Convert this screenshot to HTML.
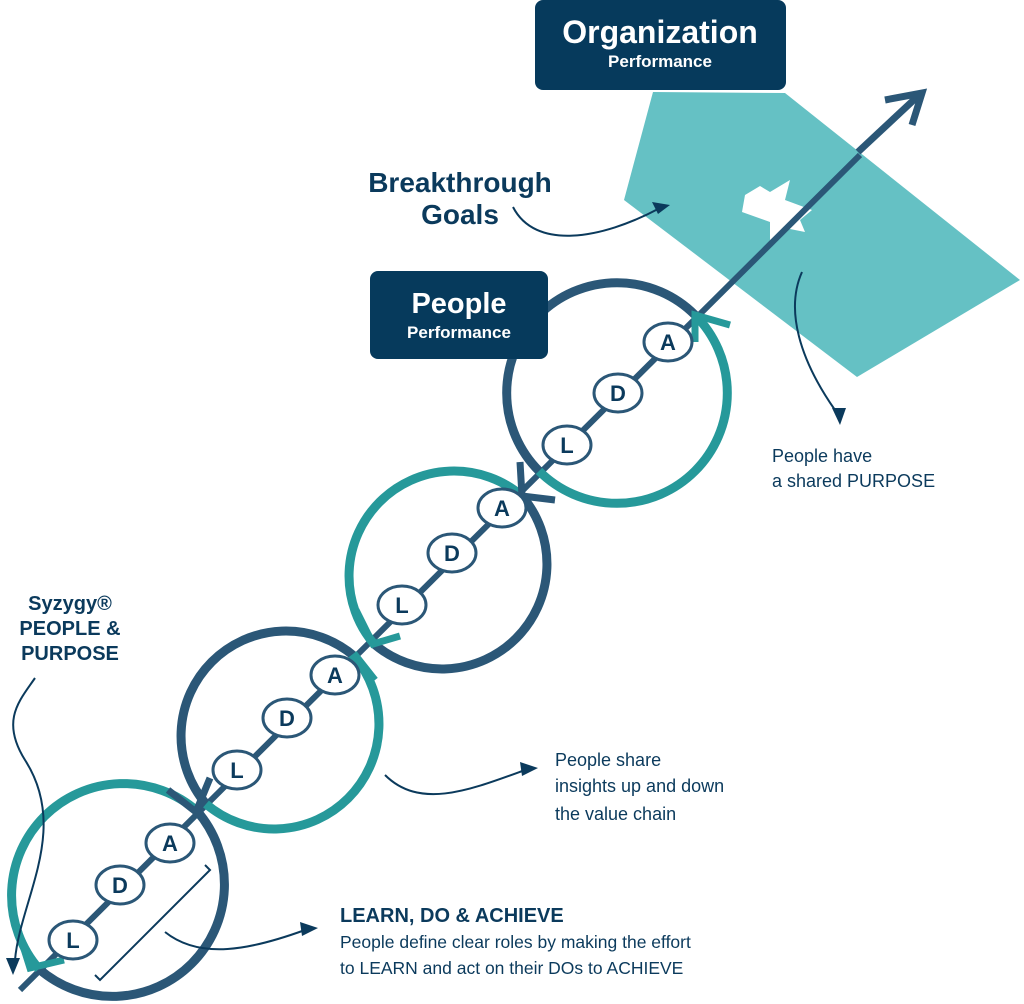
<!DOCTYPE html>
<html><head><meta charset="utf-8"><style>
html,body{margin:0;padding:0;background:#fff;width:1024px;height:1004px;overflow:hidden}
svg{display:block}
text{font-family:"Liberation Sans",sans-serif;fill:#0b3a5c}
.b{font-weight:bold}
</style></head><body>
<svg width="1024" height="1004" viewBox="0 0 1024 1004">
<polygon points="624,200 653,92 785,93 1020,280 857,377" fill="#65c1c4"/>
<polygon points="745,195 760,186 770,192 790,180 785,200 812,210 800,220 805,232 785,228 770,240 770,222 742,212" fill="#fff"/>
<line x1="20" y1="990" x2="860" y2="155" stroke="#2b5777" stroke-width="6"/>
<line x1="858" y1="152" x2="918" y2="96" stroke="#2b5777" stroke-width="7"/>
<polyline points="885,100 922,93 912,125" fill="none" stroke="#2b5777" stroke-width="7"/>
<g fill="none" stroke-width="9">
<path d="M39,969 A112,112 0 0 1 197,811" stroke="#26999a"/>
<path d="M197,811 A112,112 0 0 1 39,969" stroke="#2b5777"/>
<path d="M206,804 A105,105 0 0 1 354,656" stroke="#2b5777"/>
<path d="M354,656 A105,105 0 0 1 206,804" stroke="#26999a"/>
<path d="M374,644 A105,105 0 0 1 522,496" stroke="#26999a"/>
<path d="M522,496 A105,105 0 0 1 374,644" stroke="#2b5777"/>
<path d="M539,471 A110,110 0 0 1 695,315" stroke="#2b5777"/>
<path d="M695,315 A110,110 0 0 1 539,471" stroke="#26999a"/>
</g>
<g fill="none" stroke-width="7">
<polyline points="18,930 30,968 64,960" stroke="#26999a"/>
<polyline points="168,790 196,812 210,778" stroke="#2b5777"/>
<polyline points="375,680 356,656 335,672" stroke="#26999a"/>
<polyline points="356,610 373,644 400,636" stroke="#26999a"/>
<polyline points="520,462 522,496 555,500" stroke="#2b5777"/>
<polyline points="695,342 695,315 730,325" stroke="#26999a"/>
</g>
<g stroke="#2b5777" stroke-width="3" fill="#fff">
<ellipse cx="73" cy="940" rx="24" ry="19"/><ellipse cx="120" cy="885" rx="24" ry="19"/><ellipse cx="170" cy="843" rx="24" ry="19"/>
<ellipse cx="237" cy="770" rx="24" ry="19"/><ellipse cx="287" cy="718" rx="24" ry="19"/><ellipse cx="335" cy="675" rx="24" ry="19"/>
<ellipse cx="402" cy="605" rx="24" ry="19"/><ellipse cx="452" cy="553" rx="24" ry="19"/><ellipse cx="502" cy="508" rx="24" ry="19"/>
<ellipse cx="567" cy="445" rx="24" ry="19"/><ellipse cx="618" cy="393" rx="24" ry="19"/><ellipse cx="668" cy="342" rx="24" ry="19"/>
</g>
<g class="b" font-size="22" text-anchor="middle">
<text x="73" y="948" class="b">L</text><text x="120" y="893" class="b">D</text><text x="170" y="851" class="b">A</text>
<text x="237" y="778" class="b">L</text><text x="287" y="726" class="b">D</text><text x="335" y="683" class="b">A</text>
<text x="402" y="613" class="b">L</text><text x="452" y="561" class="b">D</text><text x="502" y="516" class="b">A</text>
<text x="567" y="453" class="b">L</text><text x="618" y="401" class="b">D</text><text x="668" y="350" class="b">A</text>
</g>
<rect x="535" y="0" width="251" height="90" rx="8" fill="#063a5c"/>
<text x="660" y="43" text-anchor="middle" font-size="32" font-weight="bold" style="fill:#fff">Organization</text>
<text x="660" y="67" text-anchor="middle" font-size="17" font-weight="bold" style="fill:#fff">Performance</text>
<rect x="370" y="271" width="178" height="88" rx="8" fill="#063a5c"/>
<text x="459" y="313" text-anchor="middle" font-size="29" font-weight="bold" style="fill:#fff">People</text>
<text x="459" y="338" text-anchor="middle" font-size="17" font-weight="bold" style="fill:#fff">Performance</text>
<text x="460" y="192" text-anchor="middle" font-size="28" class="b">Breakthrough</text>
<text x="460" y="224" text-anchor="middle" font-size="28" class="b">Goals</text>
<g fill="none" stroke="#0b3a5c" stroke-width="2">
<path d="M513,207 C535,250 600,240 660,208"/>
<path d="M802,272 C785,310 800,360 835,410"/>
<path d="M385,775 C420,810 470,790 525,770"/>
<path d="M165,932 C200,960 250,950 305,930"/>
<path d="M35,678 C20,700 0,720 25,760 C70,830 20,900 15,960"/>
<path d="M205,865 L210,870 L100,980 L95,975"/>
</g>
<g fill="#0b3a5c">
<polygon points="670,205 652,202 658,214"/>
<polygon points="840,425 832,408 846,408"/>
<polygon points="538,768 520,762 522,776"/>
<polygon points="318,928 300,922 302,936"/>
<polygon points="13,975 6,958 20,958"/>
</g>
<text x="772" y="462" font-size="18">People have</text>
<text x="772" y="487" font-size="18">a shared PURPOSE</text>
<text x="555" y="766" font-size="18">People share</text>
<text x="555" y="792" font-size="18">insights up and down</text>
<text x="555" y="820" font-size="18">the value chain</text>
<text x="340" y="922" font-size="20" class="b">LEARN, DO &amp; ACHIEVE</text>
<text x="340" y="948" font-size="17.5">People define clear roles by making the effort</text>
<text x="340" y="974" font-size="17.5">to LEARN and act on their DOs to ACHIEVE</text>
<text x="70" y="610" text-anchor="middle" font-size="20" class="b">Syzygy®</text>
<text x="70" y="635" text-anchor="middle" font-size="20" class="b">PEOPLE &amp;</text>
<text x="70" y="660" text-anchor="middle" font-size="20" class="b">PURPOSE</text>
</svg>
</body></html>
